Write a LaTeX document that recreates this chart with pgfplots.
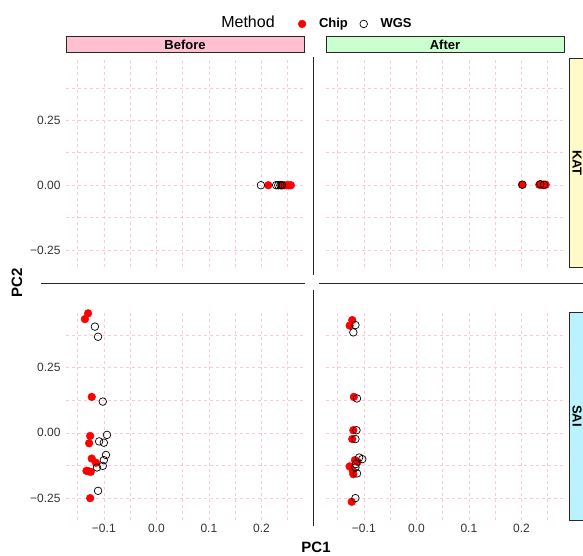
\documentclass[border=0pt]{standalone}
\usepackage{fontspec}
\setmainfont{Liberation Sans}
\usepackage{pgfplots}
\pgfplotsset{compat=1.18}
\definecolor{gridpink}{RGB}{255,200,215}
\definecolor{stripBefore}{RGB}{255,192,210}
\definecolor{stripAfter}{RGB}{204,255,208}
\definecolor{stripKAT}{RGB}{255,250,200}
\definecolor{stripSAI}{RGB}{187,242,255}
\definecolor{framegray}{RGB}{40,40,40}
\pgfplotsset{
  panel/.style={
    scale only axis, width=238pt, height=209pt,
    axis line style={draw=none}, major tick length=0pt, minor tick length=0pt,
    xmin=-0.172, xmax=0.281,
    xtick={-0.1,0,0.1,0.2}, minor xtick={-0.15,-0.05,0.05,0.15,0.25},
    ytick={-0.25,0,0.25}, minor ytick={-0.125,0.125,0.375},
    grid=both,
    major grid style={gridpink, dashed, line width=0.6pt},
    minor grid style={gridpink, dashed, line width=0.6pt},
    clip=false,
    ticklabel style={font=\fontsize{12}{12}\selectfont, text=black!80},
    xticklabels={}, yticklabels={},
  },
  chip/.style={only marks, mark=*, mark size=3.9pt, color=red, mark options={fill=red, draw=red}},
  wgs/.style={only marks, mark=o, mark size=3.8pt, color=black, mark options={line width=0.7pt}},
  toprow/.style={ymin=-0.315, ymax=0.49},
  botrow/.style={ymin=-0.335, ymax=0.468},
  ylab/.style={yticklabels={−0.25,0.00,0.25}, yticklabel style={xshift=-2pt}},
  xlab/.style={xticklabels={−0.1,0.0,0.1,0.2}, xticklabel style={yshift=-1pt}},
}
\begin{document}
\begin{tikzpicture}[x=1pt,y=1pt]
\path[use as bounding box] (0,0) rectangle (583,555);

% Top-left: KAT Before
\begin{axis}[panel, toprow, ylab, at={(66pt,288pt)}, anchor=south west,
  legend columns=2,
  legend style={draw=none, fill=none, at={(1.218,1.163)}, anchor=center,
    font=\fontsize{13}{13}\selectfont\bfseries,
    /tikz/every odd column/.append style={column sep=11pt},
    /tikz/every even column/.append style={column sep=10pt}},
  legend cell align=left]
\addplot[chip] coordinates {(0.213,0) (0.238,0) (0.243,0) (0.248,0) (0.252,0) (0.256,0)};
\addplot[wgs] coordinates {(0.199,0) (0.228,0) (0.232,0) (0.236,0) (0.239,0)};
\addlegendentry{Chip}
\addlegendentry{WGS}
\end{axis}

% Top-right: KAT After
\begin{axis}[panel, toprow, at={(326pt,288pt)}, anchor=south west]
\addplot[chip] coordinates {(0.201,0.002) (0.234,0.002) (0.238,0.002) (0.242,0.001) (0.246,0.002)};
\addplot[wgs] coordinates {(0.202,0.002) (0.236,0.004) (0.243,0.002)};
\end{axis}

% Bottom-left: SAI Before
\begin{axis}[panel, botrow, ylab, xlab, at={(66pt,35pt)}, anchor=south west]
\addplot[chip] coordinates {(-0.130,0.459) (-0.136,0.437) (-0.123,0.138) (-0.126,-0.012) (-0.128,-0.040)
  (-0.123,-0.099) (-0.115,-0.115) (-0.133,-0.146) (-0.125,-0.150) (-0.129,-0.148) (-0.126,-0.251)};
\addplot[wgs] coordinates {(-0.117,0.408) (-0.111,0.369) (-0.102,0.120) (-0.094,-0.008) (-0.109,-0.033)
  (-0.100,-0.038) (-0.096,-0.085) (-0.100,-0.105) (-0.113,-0.133) (-0.102,-0.127) (-0.111,-0.223)};
\end{axis}

% Bottom-right: SAI After
\begin{axis}[panel, botrow, xlab, at={(326pt,35pt)}, anchor=south west]
\addplot[chip] coordinates {(-0.122,0.433) (-0.127,0.412) (-0.119,0.138) (-0.120,0.010) (-0.122,-0.024)
  (-0.117,-0.105) (-0.112,-0.112) (-0.127,-0.129) (-0.121,-0.146) (-0.120,-0.159) (-0.123,-0.265)};
\addplot[wgs] coordinates {(-0.116,0.414) (-0.120,0.386) (-0.113,0.132) (-0.114,0.010) (-0.116,-0.024)
  (-0.109,-0.095) (-0.103,-0.101) (-0.116,-0.133) (-0.113,-0.156) (-0.115,-0.120) (-0.116,-0.251)};
\end{axis}

% strips
\draw[framegray, line width=1pt, fill=stripBefore] (66,502) rectangle (304,518);
\node[font=\fontsize{13}{13}\selectfont\bfseries] at (185,510) {Before};
\draw[framegray, line width=1pt, fill=stripAfter] (326,502) rectangle (564,518);
\node[font=\fontsize{13}{13}\selectfont\bfseries] at (445,510) {After};
\draw[framegray, line width=1pt, fill=stripKAT] (569,288) rectangle (590,496);
\node[font=\fontsize{13}{13}\selectfont\bfseries, rotate=-90] at (577,392) {KAT};
\draw[framegray, line width=1pt, fill=stripSAI] (569,35) rectangle (590,243);
\node[font=\fontsize{13}{13}\selectfont\bfseries, rotate=-90] at (577,139) {SAI};

% separating lines
\draw[framegray, line width=1pt] (313,498) -- (313,280);
\draw[framegray, line width=1pt] (313,265) -- (313,29);
\draw[framegray, line width=1pt] (41,272) -- (305,272);
\draw[framegray, line width=1pt] (319,272) -- (583,272);

% titles
\node[font=\fontsize{16}{16}\selectfont] at (248,533) {Method};
\node[font=\fontsize{15}{15}\selectfont\bfseries] at (316,8) {PC1};
\node[font=\fontsize{15}{15}\selectfont\bfseries, rotate=90] at (17,272) {PC2};
\end{tikzpicture}
\end{document}
